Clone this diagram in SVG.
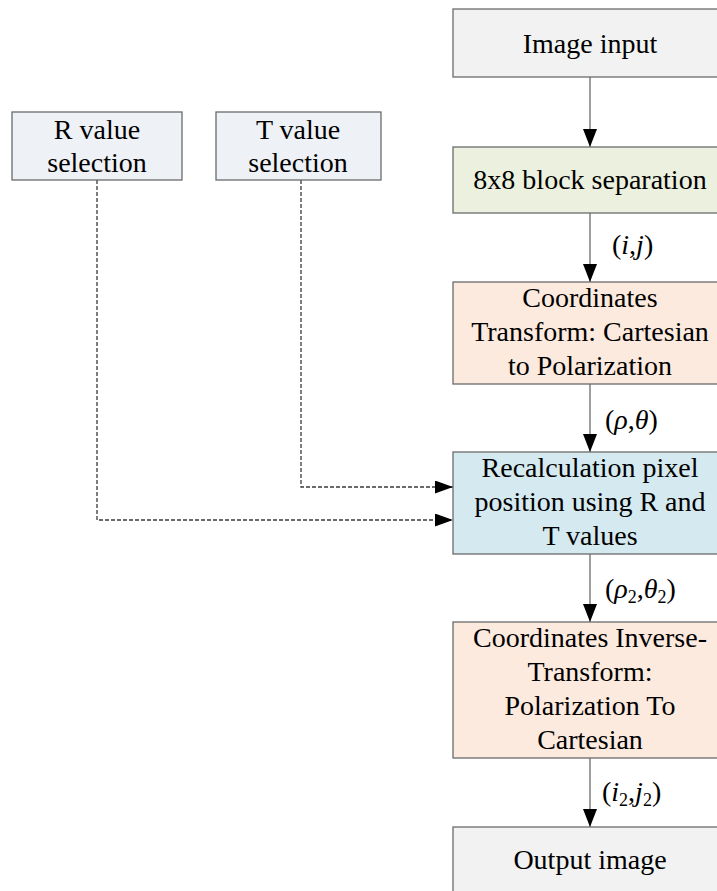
<svg xmlns="http://www.w3.org/2000/svg" width="717" height="891" viewBox="0 0 717 891">
<style>
  .box { stroke: #6b6b6b; stroke-width: 1.3; }
  .t { font-family: "Liberation Serif", "Times New Roman", serif; font-size: 28px; fill: #000; text-anchor: middle; }
  .lbl { font-family: "Liberation Serif", "Times New Roman", serif; font-size: 28px; fill: #000; }
  .it { font-style: italic; }
  .sub { font-size: 18px; }
  .flow { stroke: #6b6b6b; stroke-width: 1.3; fill: none; }
  .dash { stroke: #3a3a3a; stroke-width: 1.3; fill: none; stroke-dasharray: 4 2; }
</style>
<defs>
  <marker id="ah" markerWidth="18" markerHeight="13" viewBox="0 0 18 13" refX="18" refY="6.5" orient="auto" markerUnits="userSpaceOnUse">
    <path d="M0,0 L18,6.5 L0,13 Z" fill="#000"/>
  </marker>
  <marker id="ahv" markerWidth="18" markerHeight="14" viewBox="0 0 18 14" refX="18" refY="7" orient="auto" markerUnits="userSpaceOnUse">
    <path d="M0,0 L18,7 L0,14 Z" fill="#000"/>
  </marker>
</defs>

<g id="connectors">
  <line class="flow" x1="590" y1="77" x2="590" y2="147" marker-end="url(#ahv)"/>
  <line class="flow" x1="590" y1="213" x2="590" y2="282" marker-end="url(#ahv)"/>
  <line class="flow" x1="590" y1="384" x2="590" y2="452" marker-end="url(#ahv)"/>
  <line class="flow" x1="590" y1="554" x2="590" y2="622" marker-end="url(#ahv)"/>
  <line class="flow" x1="590" y1="758" x2="590" y2="827" marker-end="url(#ahv)"/>
  <polyline class="dash" points="301,180 301,487 453,487" marker-end="url(#ah)"/>
  <polyline class="dash" points="97,180 97,520 453,520" marker-end="url(#ah)"/>
  <text class="lbl" x="612" y="254">(<tspan class="it">i</tspan>,<tspan class="it">j</tspan>)</text>
  <text class="lbl" x="605" y="429">(<tspan class="it">ρ</tspan>,<tspan class="it">θ</tspan>)</text>
  <text class="lbl" x="605" y="598">(<tspan class="it">ρ</tspan><tspan class="sub" dy="5">2</tspan><tspan dy="-5">,</tspan><tspan class="it">θ</tspan><tspan class="sub" dy="5">2</tspan><tspan dy="-5">)</tspan></text>
  <text class="lbl" x="602" y="801">(<tspan class="it">i</tspan><tspan class="sub" dy="5">2</tspan><tspan dy="-5">,</tspan><tspan class="it">j</tspan><tspan class="sub" dy="5">2</tspan><tspan dy="-5">)</tspan></text>
</g>

<g id="image-input">
  <rect class="box" x="453" y="9" width="274" height="68" fill="#f2f2f2"/>
  <text class="t" x="590" y="53">Image input</text>
</g>

<g id="block-separation">
  <rect class="box" x="453" y="147" width="274" height="66" fill="#ebf1de"/>
  <text class="t" x="590" y="189">8x8 block separation</text>
</g>

<g id="coord-transform">
  <rect class="box" x="453" y="282" width="274" height="102" fill="#fdeade"/>
  <text class="t" x="590" y="307">Coordinates</text>
  <text class="t" x="590" y="341">Transform: Cartesian</text>
  <text class="t" x="590" y="375">to Polarization</text>
</g>

<g id="recalculation">
  <rect class="box" x="453" y="452" width="274" height="102" fill="#d5eaf0"/>
  <text class="t" x="590" y="477">Recalculation pixel</text>
  <text class="t" x="590" y="511">position using R and</text>
  <text class="t" x="590" y="545">T values</text>
</g>

<g id="inverse-transform">
  <rect class="box" x="453" y="622" width="274" height="136" fill="#fdeade"/>
  <text class="t" x="590" y="647">Coordinates Inverse-</text>
  <text class="t" x="590" y="681">Transform:</text>
  <text class="t" x="590" y="715">Polarization To</text>
  <text class="t" x="590" y="749">Cartesian</text>
</g>

<g id="output-image">
  <rect class="box" x="453" y="827" width="274" height="80" fill="#f2f2f2"/>
  <text class="t" x="590" y="869">Output image</text>
</g>

<g id="r-value">
  <rect class="box" x="12" y="112" width="170" height="68" fill="#eef1f6"/>
  <text class="t" x="97" y="139">R value</text>
  <text class="t" x="97" y="172">selection</text>
</g>

<g id="t-value">
  <rect class="box" x="216" y="112" width="165" height="68" fill="#eef1f6"/>
  <text class="t" x="298" y="139">T value</text>
  <text class="t" x="298" y="172">selection</text>
</g>
</svg>
